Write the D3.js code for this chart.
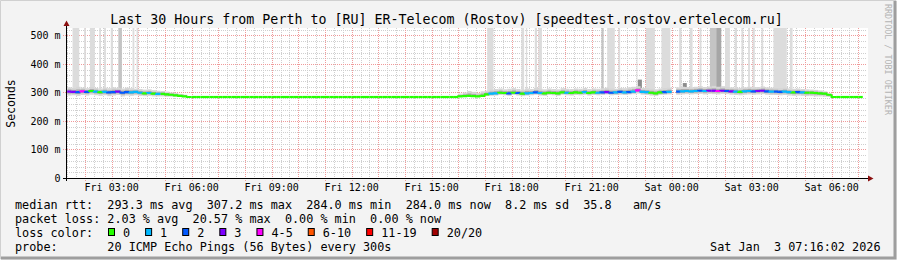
<html>
<head>
<title>SmokePing Perth to Rostov</title>
<script src="https://d3js.org/d3.v7.min.js"></script>
<style>
  body { margin: 0; background: #f3f3f3; }
  svg { display: block; }
  text { font-family: 'DejaVu Sans Mono', monospace; fill: #000; white-space: pre; }
  .title { font-size: 13.3px; }
  .tick-label { font-size: 10px; }
  .legend { font-size: 11.8px; }
  .watermark { font-size: 8.4px; fill: #b4b4b4; }
</style>
</head>
<body>
<svg width="897" height="260"></svg>
<script>
// graph window: last 30 hours, samples every 10 minutes
const viewStart = new Date(2026, 0, 2, 1, 19, 30);
const viewEnd = new Date(2026, 0, 3, 7, 19, 30);
const firstSample = new Date(2026, 0, 2, 1, 20);
const stepMin = 10;

// median rtt (ms) per sample
const median = [
  303,302,301,304,302,305,303,301,302,300,
  301,303,299,301,300,302,299,297,298,296,
  295,295,293,292,290,288,286,284,284,284,
  284,284,284,284,284,284,284,284,284,284,
  284,284,284,284,284,284,284,284,284,284,
  284,284,284,284,284,284,284,284,284,284,
  284,284,284,284,284,284,284,284,284,284,
  284,284,284,284,284,284,284,284,284,284,
  284,284,284,284,284,284,284,284,286,287,
  288,287,286,288,293,296,297,299,298,297,
  299,298,296,297,298,300,298,297,299,298,
  297,300,299,298,300,299,301,298,300,299,
  300,301,299,300,302,300,301,303,307,302,
  301,299,297,300,301,302,null,303,304,305,
  304,305,306,305,306,306,305,306,305,304,
  303,302,304,305,304,305,306,304,303,303,
  302,303,301,300,301,300,299,299,298,297,
  296,292,284,284,284,284,284,284,284
];

// loss colour class per sample (index into lossColors)
const loss = [
  3,3,2,4,2,0,1,0,1,2,
  2,3,2,2,1,1,1,0,1,0,
  1,0,0,0,0,0,0,0,0,0,
  0,0,0,0,0,0,0,0,0,0,
  0,0,0,0,0,0,0,0,0,0,
  0,0,0,0,0,0,0,0,0,0,
  0,0,0,0,0,0,0,0,0,0,
  0,0,0,0,0,0,0,0,0,0,
  0,0,0,0,0,0,0,0,0,0,
  0,0,0,0,0,1,1,0,0,2,
  0,2,0,1,1,2,1,0,0,0,
  0,0,1,0,0,0,1,0,0,1,
  2,3,2,1,2,1,2,1,4,1,
  1,0,0,0,2,1,null,2,1,1,
  1,1,2,1,3,3,4,3,2,3,
  1,0,1,1,2,3,3,2,1,2,
  2,1,1,0,2,1,0,0,0,0,
  0,0,0,0,0,0,0,0,0
];

// smoke spread: highest and lowest ping (ms) per sample
const smokeHi = [
  318,316,320,317,315,319,316,314,317,315,
  318,316,314,317,315,313,312,310,311,308,
  306,305,303,300,298,295,292,null,null,null,
  null,null,null,null,null,null,null,null,null,null,
  null,null,null,null,null,null,null,null,null,null,
  null,null,null,null,null,null,null,null,null,null,
  null,null,null,null,null,null,null,null,null,null,
  null,null,null,null,null,null,null,null,null,null,
  null,null,null,null,null,null,null,null,296,300,
  305,302,298,304,306,310,312,314,311,313,
  315,312,310,314,312,316,313,311,314,312,
  311,315,313,312,314,313,316,312,314,313,
  315,317,314,313,316,315,318,320,322,316,
  315,313,311,314,316,317,null,318,320,319,
  318,320,322,319,321,323,320,322,319,318,
  317,316,318,320,318,319,321,318,317,316,
  315,317,314,313,314,312,311,310,309,307,
  304,296,null,null,null,null,null,null,null
];
const smokeLo = [
  289,290,288,291,289,292,290,288,290,287,
  289,291,286,289,288,290,288,287,288,286,
  286,286,285,285,285,284,284,null,null,null,
  null,null,null,null,null,null,null,null,null,null,
  null,null,null,null,null,null,null,null,null,null,
  null,null,null,null,null,null,null,null,null,null,
  null,null,null,null,null,null,null,null,null,null,
  null,null,null,null,null,null,null,null,null,null,
  null,null,null,null,null,null,null,null,285,285,
  286,285,285,286,288,288,289,291,290,288,
  291,289,287,289,290,292,289,288,291,290,
  288,292,290,289,291,290,292,289,291,290,
  291,293,290,291,292,291,293,294,296,292,
  291,289,288,291,292,293,null,292,293,294,
  293,294,295,293,295,294,293,295,294,292,
  291,290,292,293,292,293,294,292,291,291,
  290,291,289,288,289,288,287,287,286,286,
  285,284,null,null,null,null,null,null,null
];

// pings beyond the top of the graph: start, minutes, shade
const offScale = [
  ['Fri 01:32',15,1], ['Fri 01:58',4,1], ['Fri 02:11',11,1], ['Fri 02:32',4,1],
  ['Fri 02:43',4,1], ['Fri 02:58',5,1], ['Fri 03:15',8,2], ['Fri 03:47',4,1],
  ['Fri 03:56',4,1], ['Fri 17:05',14,1], ['Fri 18:22',6,1], ['Fri 18:32',3,1],
  ['Fri 18:52',5,1], ['Fri 19:00',8,1], ['Fri 21:22',5,2], ['Fri 21:35',17,1],
  ['Fri 22:00',4,1], ['Fri 22:41',2,1], ['Fri 23:02',20,1], ['Fri 23:37',20,1],
  ['Sat 00:17',5,1], ['Sat 00:41',6,1], ['Sat 01:03',4,1], ['Sat 01:26',26,2],
  ['Sat 01:41',10,3], ['Sat 02:00',11,1], ['Sat 02:22',5,1], ['Sat 02:37',4,1],
  ['Sat 02:52',4,1], ['Sat 03:02',5,1], ['Sat 03:22',4,1], ['Sat 03:49',30,1],
  ['Sat 04:26',6,1]
];
// smaller outliers: start, minutes, top (ms)
const bumps = [['Fri 22:44', 9, 345], ['Sat 00:25', 9, 333]];

const yMajor = [0, 100, 200, 300, 400, 500];
const yLabels = ['0', '100 m', '200 m', '300 m', '400 m', '500 m'];
const lossColors = ['#26ff00', '#00b8ff', '#0059ff', '#7e00ff', '#ff00ff', '#ff5500', '#ff0000', '#a00000'];
const lossLabels = ['0', '1', '2', '3', '4-5', '6-10', '11-19', '20/20'];
const shades = ['', '#dcdcdc', '#c4c4c4', '#a6a6a6'];

const svg = d3.select('svg');
const x = d3.scaleTime().domain([viewStart, viewEnd]).range([67, 867]);
const y = d3.scaleLinear().domain([0, 526]).range([178, 28]);
const snap = v => Math.round(v) + 0.5;
const sampleTime = i => new Date(+firstSample + i * stepMin * 60000);
const parseT = s => {
  const [d, hm] = s.split(' ');
  const [h, m] = hm.split(':').map(Number);
  return new Date(2026, 0, d === 'Fri' ? 2 : 3, h, m);
};

// frame
svg.append('rect').attr('width', 897).attr('height', 260).attr('fill', '#f3f3f3');
svg.append('path').attr('d', 'M0.5,259 V0.5 H896').attr('stroke', '#d0d0d0').attr('fill', 'none');
svg.append('path').attr('d', 'M1,258 H895 V1').attr('stroke', '#9e9e9e').attr('stroke-width', 3).attr('fill', 'none');

// canvas
svg.append('rect').attr('x', 67).attr('y', 28).attr('width', 801).attr('height', 150).attr('fill', '#fff');

// grid
const grid = svg.append('g').attr('stroke-dasharray', '1,1').attr('fill', 'none');
const minorX = d3.timeMinute.every(20).range(viewStart, viewEnd);
grid.selectAll('.vminor').data(minorX).enter().append('line')
  .attr('x1', d => snap(x(d))).attr('x2', d => snap(x(d)))
  .attr('y1', 28).attr('y2', 178).attr('stroke', '#cfcfcf');
const minorY = d3.range(20, 526, 20);
grid.selectAll('.hminor').data(minorY).enter().append('line')
  .attr('x1', 67).attr('x2', 867)
  .attr('y1', d => snap(y(d))).attr('y2', d => snap(y(d))).attr('stroke', '#cfcfcf');
const hours = d3.timeHour.every(1).range(viewStart, viewEnd);
grid.selectAll('.vmajor').data(hours).enter().append('line')
  .attr('x1', d => snap(x(d))).attr('x2', d => snap(x(d)))
  .attr('y1', 28).attr('y2', 181).attr('stroke', '#f09a9a');
grid.selectAll('.hmajor').data(yMajor.slice(1)).enter().append('line')
  .attr('x1', 63).attr('x2', 867)
  .attr('y1', d => snap(y(d))).attr('y2', d => snap(y(d))).attr('stroke', '#f09a9a');

// smoke outliers going off the top
const plot = svg.append('g');
const medAt = t => {
  const i = Math.max(0, Math.min(median.length - 1, Math.floor((t - firstSample) / (stepMin * 60000))));
  return median[i] || 300;
};
plot.selectAll('.off').data(offScale).enter().append('rect')
  .attr('x', d => x(parseT(d[0])))
  .attr('width', d => x(new Date(+parseT(d[0]) + d[1] * 60000)) - x(parseT(d[0])))
  .attr('y', y(526))
  .attr('height', d => y(medAt(parseT(d[0]))) - y(526))
  .attr('fill', d => shades[d[2]]);
plot.selectAll('.bump').data(bumps).enter().append('rect')
  .attr('x', d => x(parseT(d[0])))
  .attr('width', d => x(new Date(+parseT(d[0]) + d[1] * 60000)) - x(parseT(d[0])))
  .attr('y', d => y(d[2]))
  .attr('height', d => y(medAt(parseT(d[0]))) - y(d[2]))
  .attr('fill', '#8c8c8c');

// smoke bands
const idx = d3.range(median.length).filter(i => smokeHi[i] != null);
plot.selectAll('.smoke').data(idx).enter().append('rect')
  .attr('x', i => x(sampleTime(i)))
  .attr('width', i => x(sampleTime(i + 1)) - x(sampleTime(i)))
  .attr('y', i => y(smokeHi[i]))
  .attr('height', i => y(smokeLo[i]) - y(smokeHi[i]))
  .attr('fill', '#d6d6d6');
plot.selectAll('.smokeIn').data(idx).enter().append('rect')
  .attr('x', i => x(sampleTime(i)))
  .attr('width', i => x(sampleTime(i + 1)) - x(sampleTime(i)))
  .attr('y', i => y((smokeHi[i] + median[i]) / 2))
  .attr('height', i => y((smokeLo[i] + median[i]) / 2) - y((smokeHi[i] + median[i]) / 2))
  .attr('fill', '#aaaaaa');

// median line coloured by loss
const segs = d3.range(median.length).filter(i => median[i] != null);
plot.selectAll('.med').data(segs).enter().append('path')
  .attr('d', i => {
    const x0 = x(sampleTime(i)), x1 = x(sampleTime(i + 1));
    const prev = i > 0 && median[i - 1] != null ? y(median[i - 1]) : y(median[i]);
    return `M${x0},${prev} V${y(median[i])} H${x1}`;
  })
  .attr('fill', 'none')
  .attr('stroke', i => lossColors[loss[i]])
  .attr('stroke-width', 2.2);

// axes
svg.append('line').attr('x1', 63).attr('x2', 869).attr('y1', 178.5).attr('y2', 178.5).attr('stroke', '#000');
svg.append('line').attr('x1', 66.5).attr('x2', 66.5).attr('y1', 181).attr('y2', 25).attr('stroke', '#000');
svg.append('path').attr('d', 'M63.5,26 L69.5,26 L66.5,20.5 Z').attr('fill', '#8b1010');
svg.append('path').attr('d', 'M868,175.5 L868,181.5 L873.5,178.5 Z').attr('fill', '#8b1010');

// tick labels
svg.selectAll('.ylab').data(yMajor).enter().append('text')
  .attr('class', 'tick-label')
  .attr('x', 60.5).attr('y', d => y(d) + 3.6)
  .attr('text-anchor', 'end')
  .text((d, i) => yLabels[i]);
const labelHours = d3.timeHour.every(3).range(viewStart, viewEnd);
svg.selectAll('.xlab').data(labelHours).enter().append('text')
  .attr('class', 'tick-label')
  .attr('x', d => x(d)).attr('y', 191)
  .attr('text-anchor', 'middle')
  .text(d3.timeFormat('%a %H:%M'));

// titles
svg.append('text').attr('class', 'title').attr('x', 446.5).attr('y', 24)
  .attr('text-anchor', 'middle')
  .text('Last 30 Hours from Perth to [RU] ER-Telecom (Rostov) [speedtest.rostov.ertelecom.ru]');
svg.append('text').attr('class', 'legend').style('font-size', '11.5px')
  .attr('transform', 'translate(15,103.5) rotate(-90)')
  .attr('text-anchor', 'middle').text('Seconds');
svg.append('text').attr('class', 'watermark')
  .attr('transform', 'translate(884.5,4) rotate(90)')
  .text('RRDTOOL / TOBI OETIKER');

// legend
const lines = [
  'median rtt:  293.3 ms avg  307.2 ms max  284.0 ms min  284.0 ms now  8.2 ms sd  35.8   am/s',
  'packet loss: 2.03 % avg  20.57 % max  0.00 % min  0.00 % now',
  'loss color:',
  'probe:       20 ICMP Echo Pings (56 Bytes) every 300s'
];
svg.selectAll('.leg').data(lines).enter().append('text')
  .attr('class', 'legend')
  .attr('x', 15).attr('y', (d, i) => 208.5 + i * 14)
  .text(d => d);
svg.append('text').attr('class', 'legend')
  .attr('x', 880.5).attr('y', 250.5).attr('text-anchor', 'end')
  .text('Sat Jan  3 07:16:02 2026');

let bx = 108;
lossLabels.forEach((lab, i) => {
  svg.append('rect').attr('x', bx + 0.5).attr('y', 228.5).attr('width', 6).attr('height', 7)
    .attr('fill', lossColors[i]).attr('stroke', '#000');
  const t = svg.append('text').attr('class', 'legend').attr('x', bx + 15).attr('y', 236.5).text(lab);
  bx = bx + 15 + t.node().getComputedTextLength() + 15;
});
</script>
</body>
</html>
